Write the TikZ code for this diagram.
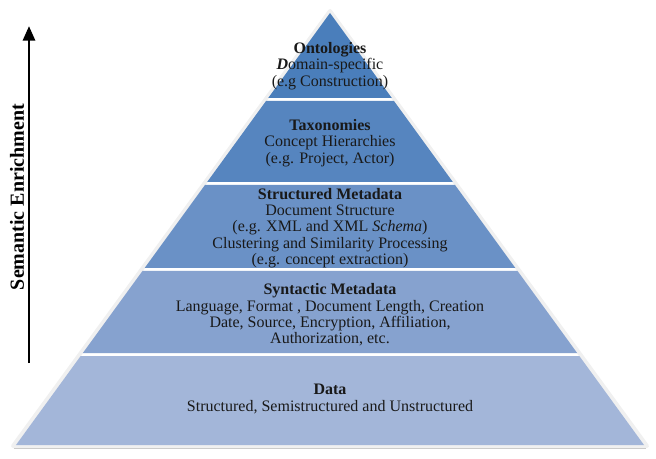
\documentclass[tikz,border=0pt]{standalone}
\usepackage{fontspec}
\setmainfont{Liberation Serif}
\usepackage{tikz}
\usetikzlibrary{arrows.meta}
\definecolor{layA}{RGB}{74,126,187}
\definecolor{layB}{RGB}{86,133,191}
\definecolor{layC}{RGB}{106,145,198}
\definecolor{layD}{RGB}{134,162,207}
\definecolor{layE}{RGB}{163,182,217}
\definecolor{txt}{RGB}{25,25,25}
\tikzset{
  layer/.style={draw=white, line width=0.6pt},
  ltxt/.style={align=center, text=txt, font=\fontsize{12}{12.3}\selectfont, inner sep=0pt},
  arr/.style={-{Triangle[length=11pt,width=9pt]}, line width=2.2pt},
  side/.style={font=\fontsize{15}{16}\selectfont\bfseries, rotate=90, inner sep=0pt},
}
% half width of the pyramid at height y (pixels from the top)
\newcommand{\hw}[1]{0.7269*(#1-13)}

\begin{document}
\begin{tikzpicture}[x=0.75pt,y=-0.75pt]
\useasboundingbox (0,0) rectangle (656,459);
% halo and shadow
\draw[gray!45, line width=1.6pt] (14,447.5) -- (646,447.5);
\draw[gray!12, line width=3pt, fill=white, line join=round] (330,11) -- (647,446) -- (13,446) -- cycle;
% layers, top to bottom
\foreach \ytop/\ybot/\col in {13/98/layA, 101/182/layB, 185/268/layC, 271/353/layD, 356/445/layE}{
  \pgfmathsetmacro{\wt}{\hw{\ytop}}
  \pgfmathsetmacro{\wb}{\hw{\ybot}}
  \fill[\col] (330-\wt,\ytop) -- (330+\wt,\ytop) -- (330+\wb,\ybot) -- (330-\wb,\ybot) -- cycle;
}
\node[ltxt] (ont) at (330,66) {\textbf{Ontologies}\\{\bfseries\itshape D}omain-specific\\(e.g Construction)};
\node[ltxt] (tax) at (330,143) {\textbf{Taxonomies}\\Concept Hierarchies\\(e.g. Project, Actor)};
\node[ltxt] (smeta) at (330,228) {\textbf{Structured Metadata}\\Document Structure\\(e.g. XML and XML \textit{Schema})\\Clustering and Similarity Processing\\(e.g. concept extraction)};
\node[ltxt] (synt) at (330,315) {\textbf{Syntactic Metadata}\\Language, Format , Document Length, Creation\\Date, Source, Encryption, Affiliation,\\Authorization, etc.};
\node[ltxt] (data) at (330,399) {\textbf{Data}\\Structured, Semistructured and Unstructured};
% enrichment arrow
\coordinate (enrbot) at (29,363);
\coordinate (enrtop) at (29,26);
\draw[arr] (enrbot) -- (enrtop);
\node[side] (enr) at (17,197) {Semantic Enrichment};
\end{tikzpicture}
\end{document}
